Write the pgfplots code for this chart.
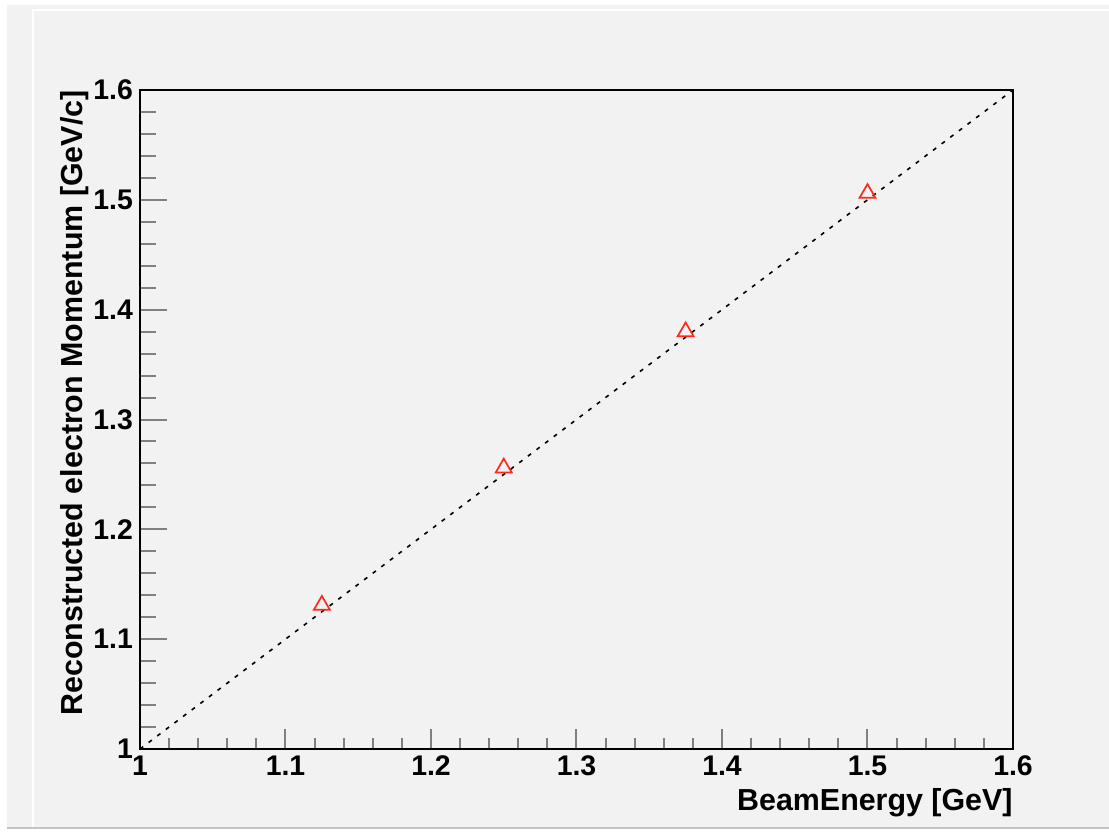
\documentclass[border=0pt]{standalone}
\usepackage{fontspec}
\setmainfont{Liberation Sans}
\usepackage{pgfplots}
\pgfplotsset{compat=1.18}
\definecolor{padgray}{HTML}{F2F2F2}
\definecolor{edgegray}{HTML}{C4C4C4}
\definecolor{rootred}{HTML}{FF2A1A}

\begin{document}
\begin{tikzpicture}
% canvas / pad frame (1px = 0.5pt, axis box lower-left at origin)
\fill[white] (-70pt,-41pt) rectangle (484.5pt,374.5pt);
\fill[padgray] (-66.5pt,-39.5pt) rectangle (484.5pt,372pt);
\draw[white, line width=1pt] (-53.5pt,-39.5pt) -- (-53.5pt,369.5pt) -- (484.5pt,369.5pt);
\draw[edgegray, line width=1pt] (-66.5pt,-39.5pt) -- (484.5pt,-39.5pt);

\begin{axis}[
  scale only axis,
  width=436.5pt, height=329.5pt,
  xmin=1, xmax=1.6, ymin=1, ymax=1.6,
  xtick={1,1.1,1.2,1.3,1.4,1.5,1.6},
  ytick={1,1.1,1.2,1.3,1.4,1.5,1.6},
  minor tick num=4,
  tick align=inside,
  xtick pos=bottom, ytick pos=left,
  axis line style={line width=1.1pt},
  xtick style={line width=1pt, /pgfplots/major tick length=10pt, /pgfplots/minor tick length=5.3pt},
  ytick style={line width=1pt, /pgfplots/major tick length=13.5pt, /pgfplots/minor tick length=8pt},
  /pgf/number format/assume math mode=true,
  tick label style={font=\fontsize{14.2}{17}\selectfont\bfseries},
  xlabel={BeamEnergy [GeV]},
  ylabel={Reconstructed electron Momentum [GeV/c]},
  label style={font=\fontsize{15.2}{18}\selectfont\bfseries, inner sep=0pt},
  xlabel style={at={(axis description cs:1,-0.0926)}, anchor=base east},
  ylabel style={at={(axis description cs:-0.0664,1)}, anchor=base east},
  clip=false,
]
\addplot[black, line width=0.8pt, dash pattern=on 2pt off 3.4pt]
  coordinates {(1,1) (1.6,1.6)};
\addplot[only marks, mark=triangle, mark size=4.6pt,
  mark options={draw=rootred, line width=0.85pt, fill=none}]
  coordinates {(1.125,1.131) (1.25,1.256) (1.375,1.380) (1.5,1.506)};
\end{axis}
\pgfresetboundingbox
\path[use as bounding box] (-70pt,-41pt) rectangle (484.5pt,374.5pt);
\end{tikzpicture}
\end{document}
